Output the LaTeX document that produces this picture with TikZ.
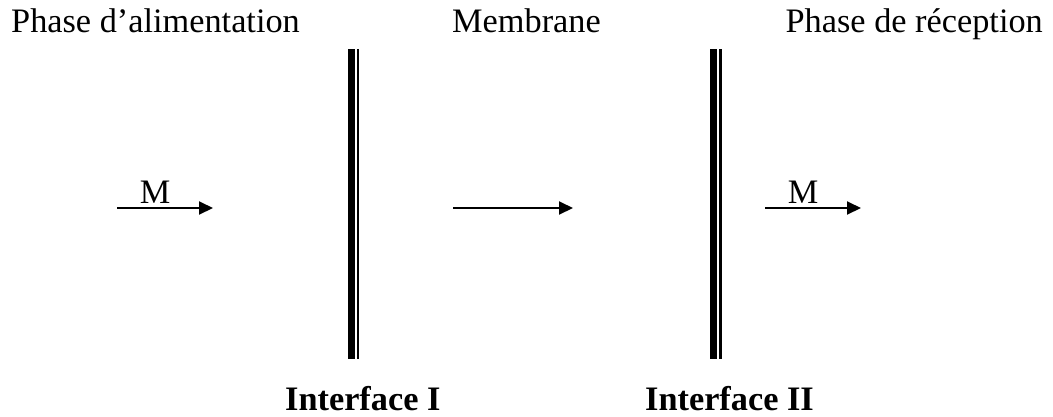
\documentclass[tikz,border=0pt]{standalone}
\usepackage{fontspec}
\setmainfont{Liberation Serif}
\usetikzlibrary{arrows.meta}

\tikzset{
  titre/.style={font=\fontsize{34.3}{40}\selectfont, inner sep=0pt},
  interface/.style={font=\fontsize{34.3}{40}\selectfont\bfseries, inner sep=0pt, anchor=base},
  flux/.style={-{Triangle[length=14pt,width=13pt]}, line width=2pt},
  paroi/.style={line width=7pt},
  paroifine/.style={line width=2.5pt}
}

\begin{document}
\begin{tikzpicture}[x=1pt, y=-1pt]
    \useasboundingbox (0,0) rectangle (1053,416);

    % Phases (top row)
    \node[titre, anchor=base west] (alim) at (11,32.5) {Phase d’alimentation};
    \node[titre, anchor=base west] (membrane) at (452,32.5) {Membrane};
    \node[titre, anchor=base east] (recep) at (1043,32.5) {Phase de réception};

    % Interface I (double wall)
    \coordinate (i1h) at (351.5,49);
    \coordinate (i1b) at (351.5,359);
    \draw[paroi] (i1h) -- (i1b);
    \draw[paroifine] ([xshift=6.5pt]i1h) -- ([xshift=6.5pt]i1b);
    \node[interface, anchor=base west] (int1) at (285,410) {Interface I};

    % Interface II (double wall)
    \coordinate (i2h) at (713.8,49);
    \coordinate (i2b) at (713.8,359);
    \draw[paroi] (i2h) -- (i2b);
    \draw[paroifine] ([xshift=6.5pt]i2h) -- ([xshift=6.5pt]i2b);
    \node[interface, anchor=base west] (int2) at (645,410) {Interface II};

    % Transport arrows
    \coordinate (f1a) at (117,208);
    \coordinate (f1b) at (213,208);
    \draw[flux] (f1a) -- (f1b);
    \node[titre, anchor=base] (m1) at (155,203) {M};

    \coordinate (f2a) at (453,208);
    \coordinate (f2b) at (573,208);
    \draw[flux] (f2a) -- (f2b);

    \coordinate (f3a) at (765,208);
    \coordinate (f3b) at (861,208);
    \draw[flux] (f3a) -- (f3b);
    \node[titre, anchor=base] (m2) at (803,203) {M};
\end{tikzpicture}
\end{document}
